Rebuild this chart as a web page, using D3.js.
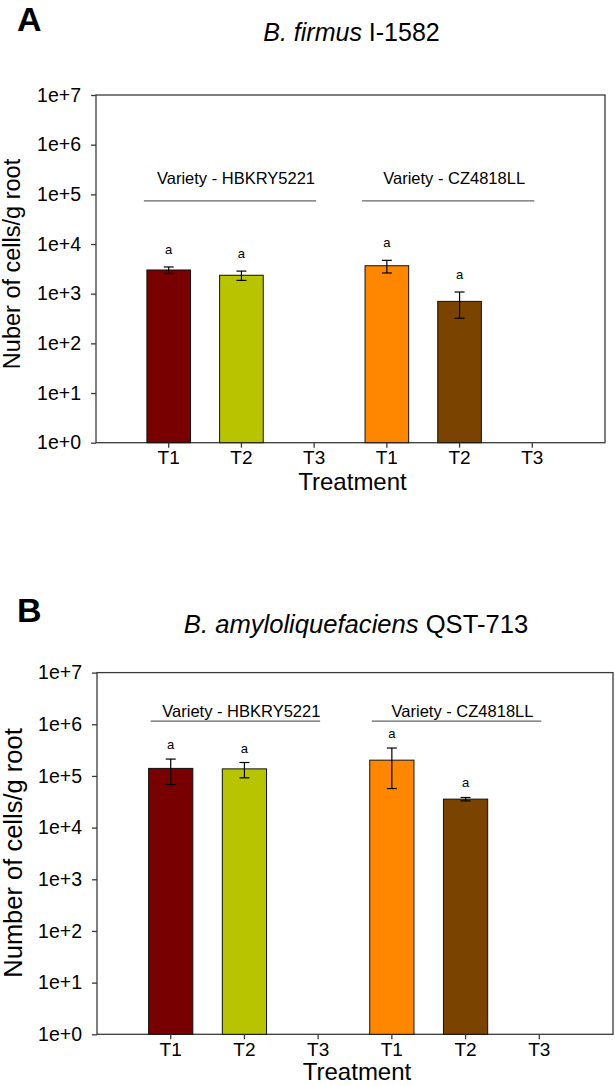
<!DOCTYPE html>
<html>
<head>
<meta charset="utf-8">
<script src="https://cdn.jsdelivr.net/npm/d3@7"></script>
<style>
  html, body { margin: 0; padding: 0; background: #fff; }
  svg { display: block; }
  text { font-family: "Liberation Sans", Arial, sans-serif; fill: #000; }
</style>
</head>
<body>
<svg id="chart" width="615" height="1086"></svg>
<script>
// ---------- data ----------
const categories = ["T1", "T2", "T3", "T1", "T2", "T3"];
const categoryKeys = ["HB-T1", "HB-T2", "HB-T3", "CZ-T1", "CZ-T2", "CZ-T3"];
const varieties = ["Variety - HBKRY5221", "Variety - CZ4818LL"];
const yTickValues = [1, 10, 100, 1000, 10000, 100000, 1000000, 10000000];

const firmusMeans = [3000, 2350, null, 3650, 700, null];
const firmusErrors = [450, 500, null, 1040, 380, null];
const firmusLetters = ["a", "a", "", "a", "a", ""];

const amyloMeans = [140000, 137000, null, 202000, 35600, null];
const amyloErrors = [72000, 45000, null, 145000, 2700, null];
const amyloLetters = ["a", "a", "", "a", "a", ""];

// level (cells/g root) of the variety bracket line in each panel
const firmusBracketLevel = 74000;
const amyloBracketLevel = 1150000;

// ---------- drawing ----------
const svg = d3.select("#chart");
const colour = d3.scaleOrdinal()
  .domain(categoryKeys)
  .range(["#780000", "#b8c400", "#999999", "#ff8700", "#7a4300", "#999999"]);

function drawPanel(o) {
  const g = svg.append("g");
  const x = d3.scaleBand().domain(categoryKeys)
    .range([o.left, o.right]).paddingInner(0.4).paddingOuter(0.7);
  const y = d3.scaleLog().domain([1, 1e7]).range([o.bottom, o.top]);

  // panel letter and title
  g.append("text").attr("x", 17).attr("y", o.letterY)
    .attr("font-size", 34).attr("font-weight", "bold").text(o.letter);
  const t = g.append("text").attr("x", (o.left + o.right) / 2 + 1).attr("y", o.titleY)
    .attr("text-anchor", "middle").attr("font-size", o.titleSize);
  t.append("tspan").attr("font-style", "italic").text(o.species);
  t.append("tspan").text(" " + o.strain);

  // frame
  g.append("rect").attr("x", o.left).attr("y", o.top)
    .attr("width", o.right - o.left).attr("height", o.bottom - o.top)
    .attr("fill", "none").attr("stroke", "#3a3a3a").attr("stroke-width", 1.3);

  // bars
  const rows = categoryKeys.map((k, i) => ({
    key: k, label: categories[i], mean: o.means[i], err: o.errors[i], letter: o.letters[i]
  }));
  const withData = rows.filter(d => d.mean != null);
  g.selectAll("rect.bar").data(withData).enter().append("rect")
    .attr("class", "bar")
    .attr("x", d => x(d.key)).attr("width", x.bandwidth())
    .attr("y", d => y(d.mean)).attr("height", d => y(1) - y(d.mean))
    .attr("fill", d => colour(d.key)).attr("stroke", "#111").attr("stroke-width", 1);

  // error bars
  const cx = d => x(d.key) + x.bandwidth() / 2;
  const eb = g.selectAll("g.err").data(withData).enter().append("g").attr("class", "err")
    .attr("stroke", "#000").attr("stroke-width", 1.2);
  eb.append("line").attr("x1", cx).attr("x2", cx)
    .attr("y1", d => y(d.mean + d.err)).attr("y2", d => y(d.mean - d.err));
  eb.append("line").attr("x1", d => cx(d) - 5).attr("x2", d => cx(d) + 5)
    .attr("y1", d => y(d.mean + d.err)).attr("y2", d => y(d.mean + d.err));
  eb.append("line").attr("x1", d => cx(d) - 5).attr("x2", d => cx(d) + 5)
    .attr("y1", d => y(d.mean - d.err)).attr("y2", d => y(d.mean - d.err));

  // significance letters
  g.selectAll("text.sig").data(withData).enter().append("text")
    .attr("class", "sig").attr("x", cx).attr("y", d => y(d.mean + d.err) - o.letterGap)
    .attr("text-anchor", "middle").attr("font-size", 13).text(d => d.letter);

  // variety brackets
  [0, 1].forEach(v => {
    const first = categoryKeys[v * 3], last = categoryKeys[v * 3 + 2];
    const x1 = x(first) + o.lineStartOff;
    const x2 = x(last) + x.bandwidth() / 2 + 2;
    const ly = y(o.bracket);
    g.append("line").attr("x1", x1).attr("x2", x2).attr("y1", ly).attr("y2", ly)
      .attr("stroke", "#666").attr("stroke-width", 1.2);
    g.append("text").attr("x", (x1 + x2) / 2 + 6).attr("y", ly - o.varLabelGap)
      .attr("text-anchor", "middle").attr("font-size", 16.5).text(varieties[v]);
  });

  // y axis
  const ya = g.append("g").attr("transform", `translate(${o.left},0)`)
    .call(d3.axisLeft(y).tickValues(yTickValues).tickSize(5).tickPadding(10)
      .tickFormat(d => "1e+" + Math.round(Math.log10(d))));
  ya.select(".domain").remove();
  ya.selectAll("line").attr("stroke", "#3a3a3a").attr("stroke-width", 1.3);
  ya.selectAll("text").attr("font-size", 19.5).attr("font-family", "Liberation Sans, Arial, sans-serif");

  // x axis
  const xa = g.append("g").attr("transform", `translate(0,${o.bottom})`)
    .call(d3.axisBottom(x).tickSize(5).tickPadding(3)
      .tickFormat((d, i) => categories[i]));
  xa.select(".domain").remove();
  xa.selectAll("line").attr("stroke", "#3a3a3a").attr("stroke-width", 1.3);
  xa.selectAll("text").attr("font-size", 19).attr("font-family", "Liberation Sans, Arial, sans-serif");

  // axis titles
  g.append("text").attr("x", (o.left + o.right) / 2 + 2).attr("y", o.xTitleY)
    .attr("text-anchor", "middle").attr("font-size", 24).text("Treatment");
  g.append("text")
    .attr("transform", `translate(${o.yTitleX},${o.yTitleCY}) rotate(-90)`)
    .attr("text-anchor", "middle").attr("font-size", o.yTitleSize).text(o.yTitle);
}

drawPanel({
  letter: "A", letterY: 31, species: "B. firmus", strain: "I-1582", titleY: 41, titleSize: 25,
  left: 96, right: 605, top: 95, bottom: 442.7,
  means: firmusMeans, errors: firmusErrors, letters: firmusLetters,
  letterGap: 13, bracket: firmusBracketLevel, varLabelGap: 17, lineStartOff: -3,
  xTitleY: 490, yTitle: "Nuber of cells/g root", yTitleX: 20, yTitleCY: 264, yTitleSize: 23.5
});

drawPanel({
  letter: "B", letterY: 622, species: "B. amyloliquefaciens", strain: "QST-713", titleY: 633, titleSize: 25.6,
  left: 97, right: 613, top: 672.6, bottom: 1034.3,
  means: amyloMeans, errors: amyloErrors, letters: amyloLetters,
  letterGap: 10, bracket: amyloBracketLevel, varLabelGap: 4, lineStartOff: 2,
  xTitleY: 1080, yTitle: "Number of cells/g root", yTitleX: 21.5, yTitleCY: 853, yTitleSize: 25.5
});
</script>
</body>
</html>
